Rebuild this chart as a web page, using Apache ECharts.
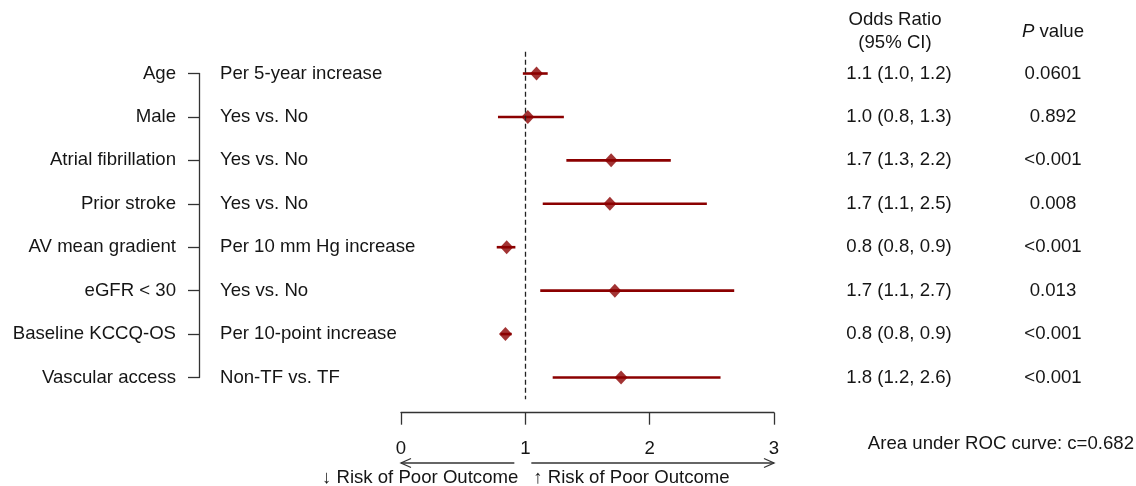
<!DOCTYPE html>
<html><head><meta charset="utf-8">
<script src="https://cdn.jsdelivr.net/npm/echarts@6/dist/echarts.min.js"></script>
<style>html,body{margin:0;padding:0;background:#fff}#c{width:1136px;height:486px}</style>
</head><body><div id="c"></div>
<script>
const variables = ['Age','Male','Atrial fibrillation','Prior stroke','AV mean gradient','eGFR < 30','Baseline KCCQ-OS','Vascular access'];
const comparisons = ['Per 5-year increase','Yes vs. No','Yes vs. No','Yes vs. No','Per 10 mm Hg increase','Yes vs. No','Per 10-point increase','Non-TF vs. TF'];
const oddsRatio = [1.09, 1.02, 1.69, 1.68, 0.85, 1.72, 0.84, 1.77];
const ciLower   = [0.98, 0.78, 1.33, 1.14, 0.77, 1.12, 0.80, 1.22];
const ciUpper   = [1.18, 1.31, 2.17, 2.46, 0.92, 2.68, 0.89, 2.57];
const orText = ['1.1 (1.0, 1.2)','1.0 (0.8, 1.3)','1.7 (1.3, 2.2)','1.7 (1.1, 2.5)','0.8 (0.8, 0.9)','1.7 (1.1, 2.7)','0.8 (0.8, 0.9)','1.8 (1.2, 2.6)'];
const pText = ['0.0601','0.892','<0.001','0.008','<0.001','0.013','<0.001','<0.001'];
const tableHeaders = ['Odds Ratio\n(95% CI)', 'P value'];
const xTicks = [0, 1, 2, 3];
const aucText = 'Area under ROC curve: c=0.682';
const lowerRiskText = '\u2193 Risk of Poor Outcome';
const higherRiskText = '\u2191 Risk of Poor Outcome';

const FONT = '"Liberation Sans", Arial, sans-serif';
const FS = 18.6;
const TXT = '#151515';
const RED = '#8b0000';

const chart = echarts.init(document.getElementById('c'), null, {renderer: 'canvas'});

const rows = variables.map((v, i) => i);

const option = {
  animation: false,
  backgroundColor: '#fff',
  textStyle: {fontFamily: FONT, color: TXT},
  grid: [
    {left: 401, width: 373, top: 51.8, height: 347.4},
    {left: 199, width: 200, top: 73.5, height: 304},
    {left: 822, width: 308, top: 73.5, height: 304}
  ],
  xAxis: [
    {
      gridIndex: 0, type: 'value', min: xTicks[0], max: xTicks[xTicks.length - 1], interval: 1,
      position: 'bottom', offset: 13.5,
      axisLine: {show: true, onZero: false, lineStyle: {color: '#333', width: 1.3}},
      axisTick: {show: true, length: 12, lineStyle: {color: '#333', width: 1.3}},
      axisLabel: {margin: 27, fontSize: FS, color: TXT, fontFamily: FONT},
      splitLine: {show: false}
    },
    {gridIndex: 1, type: 'value', min: 0, max: 1, show: false},
    {
      gridIndex: 2, type: 'category', data: tableHeaders, position: 'top',
      axisLine: {show: false, onZero: false}, axisTick: {show: false},
      axisLabel: {
        margin: 19, interval: 0,
        formatter: (v, i) => i === 0
          ? v.split('\n').map(s => '{a|' + s + '}').join('\n')
          : '{i|' + v.split(' ')[0] + '}{b| ' + v.split(' ').slice(1).join(' ') + '}',
        rich: {
          a: {fontSize: FS, lineHeight: 23, color: TXT, fontFamily: FONT, padding: [0, 8, 0, 0]},
          i: {fontSize: FS, lineHeight: 46, color: TXT, fontFamily: FONT, fontStyle: 'italic'},
          b: {fontSize: FS, lineHeight: 46, color: TXT, fontFamily: FONT}
        }
      }
    }
  ],
  yAxis: [
    {gridIndex: 0, type: 'value', min: -0.5, max: 7.5, inverse: true, show: false},
    {
      gridIndex: 1, type: 'value', min: 0, max: 7, interval: 1, inverse: true, position: 'left',
      axisLine: {show: true, onZero: false, lineStyle: {color: '#333', width: 1.3}},
      axisTick: {show: true, length: 11, lineStyle: {color: '#333', width: 1.3}},
      axisLabel: {margin: 23, fontSize: FS, color: TXT, fontFamily: FONT, formatter: v => variables[v] || ''},
      splitLine: {show: false}
    },
    {gridIndex: 2, type: 'value', min: 0, max: 7, inverse: true, show: false}
  ],
  series: [
    {
      type: 'custom', xAxisIndex: 0, yAxisIndex: 0,
      data: rows.map(i => [i, ciLower[i], ciUpper[i]]),
      encode: {x: [1, 2], y: 0},
      renderItem: (params, api) => {
        const lo = api.coord([api.value(1), api.value(0)]);
        const hi = api.coord([api.value(2), api.value(0)]);
        return {type: 'line', shape: {x1: lo[0], y1: lo[1], x2: hi[0], y2: hi[1]},
                style: {stroke: RED, lineWidth: 2.6}};
      },
      z: 2
    },
    {
      type: 'scatter', xAxisIndex: 0, yAxisIndex: 0,
      data: rows.map(i => [oddsRatio[i], i]),
      symbol: 'diamond', symbolSize: [13, 14],
      itemStyle: {color: RED},
      z: 3,
      markLine: {
        silent: true, symbol: 'none', label: {show: false},
        lineStyle: {type: [5, 3], color: '#222', width: 1.3},
        data: [{xAxis: 1}]
      }
    },
    {
      type: 'custom', xAxisIndex: 1, yAxisIndex: 1,
      data: rows.map(i => [0, i]),
      renderItem: (params, api) => {
        const p = api.coord([api.value(0), api.value(1)]);
        return {type: 'text', x: p[0] + 21, y: p[1],
                style: {text: comparisons[params.dataIndex], fill: TXT, fontSize: FS, fontFamily: FONT,
                        align: 'left', verticalAlign: 'middle'}};
      }
    },
    {
      type: 'custom', xAxisIndex: 2, yAxisIndex: 2,
      data: rows.map(i => [0, i]).concat(rows.map(i => [1, i])),
      renderItem: (params, api) => {
        const col = api.value(0), row = api.value(1);
        const p = api.coord([col, row]);
        const t = col === 0 ? orText[row] : pText[row];
        return {type: 'text', x: p[0], y: p[1],
                style: {text: t, fill: TXT, fontSize: FS, fontFamily: FONT,
                        align: 'center', verticalAlign: 'middle'}};
      }
    }
  ]
};
chart.setOption(option);

const px = v => chart.convertToPixel({xAxisIndex: 0}, v);
const x0 = px(0), x1 = px(1), x3 = px(3);
const ay = 463;
const head = (x, dir) => ({
  type: 'polyline',
  shape: {points: [[x - dir * 10, ay - 4.5], [x, ay], [x - dir * 10, ay + 4.5]]},
  style: {stroke: '#333', lineWidth: 1.3, fill: null}
});
chart.setOption({
  graphic: [
    {type: 'line', shape: {x1: x1 - 11, y1: ay, x2: x0, y2: ay}, style: {stroke: '#333', lineWidth: 1.3}},
    head(x0, -1),
    {type: 'line', shape: {x1: x1 + 6, y1: ay, x2: x3, y2: ay}, style: {stroke: '#333', lineWidth: 1.3}},
    head(x3, 1),
    {type: 'text', x: x1 - 7, y: 478,
     style: {text: lowerRiskText, fill: TXT, fontSize: FS, fontFamily: FONT, align: 'right', verticalAlign: 'middle'}},
    {type: 'text', x: x1 + 8, y: 478,
     style: {text: higherRiskText, fill: TXT, fontSize: FS, fontFamily: FONT, align: 'left', verticalAlign: 'middle'}},
    {type: 'text', x: 1134, y: 444,
     style: {text: aucText, fill: TXT, fontSize: FS, fontFamily: FONT, align: 'right', verticalAlign: 'middle'}}
  ]
});
</script>
</body></html>
